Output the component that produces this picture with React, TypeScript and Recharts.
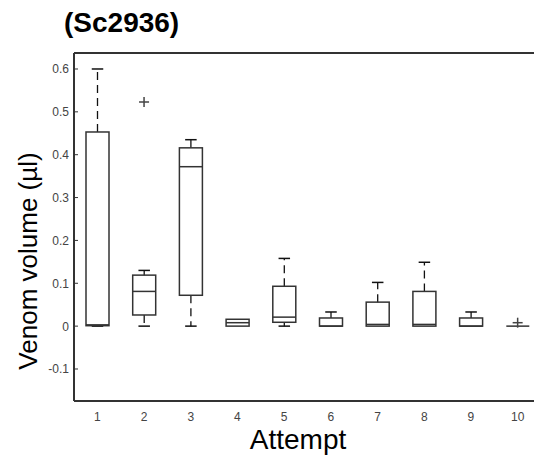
import React from 'react';
import { ComposedChart, Bar, Scatter, XAxis, YAxis, ReferenceLine } from 'recharts';

const attempts = ['1', '2', '3', '4', '5', '6', '7', '8', '9', '10'];
const whiskerLow = [0, 0, 0, 0, 0, 0, 0, 0, 0, 0];
const q1 = [0.001, 0.026, 0.072, 0, 0.009, 0, 0, 0, 0, 0];
const median = [0.003, 0.081, 0.372, 0.008, 0.021, 0, 0.004, 0.004, 0, 0];
const q3 = [0.453, 0.119, 0.416, 0.016, 0.093, 0.019, 0.056, 0.081, 0.019, 0];
const whiskerHigh = [0.6, 0.13, 0.435, 0.016, 0.158, 0.033, 0.102, 0.149, 0.033, 0];
const outliers: (number | null)[] = [null, 0.523, null, null, null, null, null, null, null, 0.008];
const yTicks = [-0.1, 0, 0.1, 0.2, 0.3, 0.4, 0.5, 0.6];
const yDomain: [number, number] = [-0.1747, 0.6373];

const data = attempts.map((a, i) => ({
  attempt: a,
  range: [whiskerLow[i], whiskerHigh[i]],
  wLow: whiskerLow[i],
  q1: q1[i],
  median: median[i],
  q3: q3[i],
  wHigh: whiskerHigh[i],
  outlier: outliers[i],
}));

const INK = '#333';

const BoxShape = (props: any) => {
  const { x, y, width, height, payload } = props;
  if (x == null || y == null || !payload) return null;
  const { wLow, wHigh, q1: b1, median: m, q3: b3 } = payload;
  const px = (v: number) => (wHigh === wLow ? y : y + (height * (wHigh - v)) / (wHigh - wLow));
  const cx = x + width / 2;
  const cap = width / 4;
  const els: any[] = [];
  if (wHigh > b3) {
    els.push(<line key="uw" x1={cx} x2={cx} y1={px(b3)} y2={px(wHigh)} stroke="#111" strokeWidth={1.3} strokeDasharray="8 5" />);
    els.push(<line key="uc" x1={cx - cap} x2={cx + cap} y1={px(wHigh)} y2={px(wHigh)} stroke="#111" strokeWidth={1.5} />);
  }
  if (b1 > wLow) {
    els.push(<line key="lw" x1={cx} x2={cx} y1={px(b1)} y2={px(wLow)} stroke="#111" strokeWidth={1.3} strokeDasharray="8 5" />);
    els.push(<line key="lc" x1={cx - cap} x2={cx + cap} y1={px(wLow)} y2={px(wLow)} stroke="#111" strokeWidth={1.5} />);
  }
  const top = px(b3);
  const bot = px(b1);
  els.push(<rect key="box" x={x} y={top} width={width} height={Math.max(0, bot - top)} fill="none" stroke={INK} strokeWidth={1.5} />);
  els.push(<line key="med" x1={x} x2={x + width} y1={px(m)} y2={px(m)} stroke={INK} strokeWidth={1.5} />);
  return <g>{els}</g>;
};

const PlusShape = (props: any) => {
  const { cx, cy, payload } = props;
  if (!payload || payload.outlier == null || cx == null || cy == null || isNaN(cy)) return null;
  const s = 5;
  return (
    <g>
      <line x1={cx - s} x2={cx + s} y1={cy} y2={cy} stroke="#444" strokeWidth={1.5} />
      <line x1={cx} x2={cx} y1={cy - s} y2={cy + s} stroke="#444" strokeWidth={1.5} />
    </g>
  );
};

const YTick = (props: any) => {
  const { x, y, payload } = props;
  const v = payload.value;
  const label = v === 0 ? '0' : v.toFixed(1);
  return (
    <g>
      <text x={x} y={y} dy={4.5} textAnchor="end" fontSize={12} fill="#444" fontFamily="Liberation Sans, Arial, sans-serif">{label}</text>
      <line x1={x + 5} x2={x + 9} y1={y} y2={y} stroke={INK} strokeWidth={1} />
    </g>
  );
};

export default function App() {
  return (
    <div style={{ position: 'absolute', left: 0, top: 0, width: 534, height: 459, overflow: 'hidden', background: '#fff' }}>
      <ComposedChart
        width={560}
        height={459}
        data={data}
        margin={{ top: 53, right: 19, bottom: 28, left: 0 }}
        barCategoryGap={0}
        barGap={0}
      >
        <XAxis
          dataKey="attempt"
          type="category"
          height={30}
          tickLine={false}
          tickMargin={5}
          axisLine={{ stroke: INK, strokeWidth: 2 }}
          tick={{ fontSize: 12, fill: '#444', fontFamily: 'Liberation Sans, Arial, sans-serif' }}
          interval={0}
        />
        <YAxis
          type="number"
          domain={yDomain}
          ticks={yTicks}
          width={74}
          tickLine={false}
          tickSize={0}
          tickMargin={5}
          interval={0}
          allowDataOverflow
          axisLine={{ stroke: INK, strokeWidth: 2 }}
          tick={<YTick />}
        />
        <ReferenceLine y={yDomain[1]} stroke={INK} strokeWidth={2} ifOverflow="visible" />
        <Bar dataKey="range" barSize={23} shape={<BoxShape />} isAnimationActive={false} />
        <Scatter dataKey="outlier" shape={<PlusShape />} isAnimationActive={false} />
      </ComposedChart>
      <svg width={534} height={459} style={{ position: 'absolute', left: 0, top: 0, pointerEvents: 'none' }}>
        <text x={64} y={32} fontSize={28} fontWeight="bold" fontFamily="Liberation Sans, Arial, sans-serif" fill="#000">(Sc2936)</text>
        <text x={298} y={449} fontSize={28} textAnchor="middle" fontFamily="Liberation Sans, Arial, sans-serif" fill="#000">Attempt</text>
        <text transform="translate(37,261) rotate(-90)" fontSize={26} textAnchor="middle" fontFamily="Liberation Sans, Arial, sans-serif" fill="#000">Venom volume (µl)</text>
      </svg>
    </div>
  );
}
